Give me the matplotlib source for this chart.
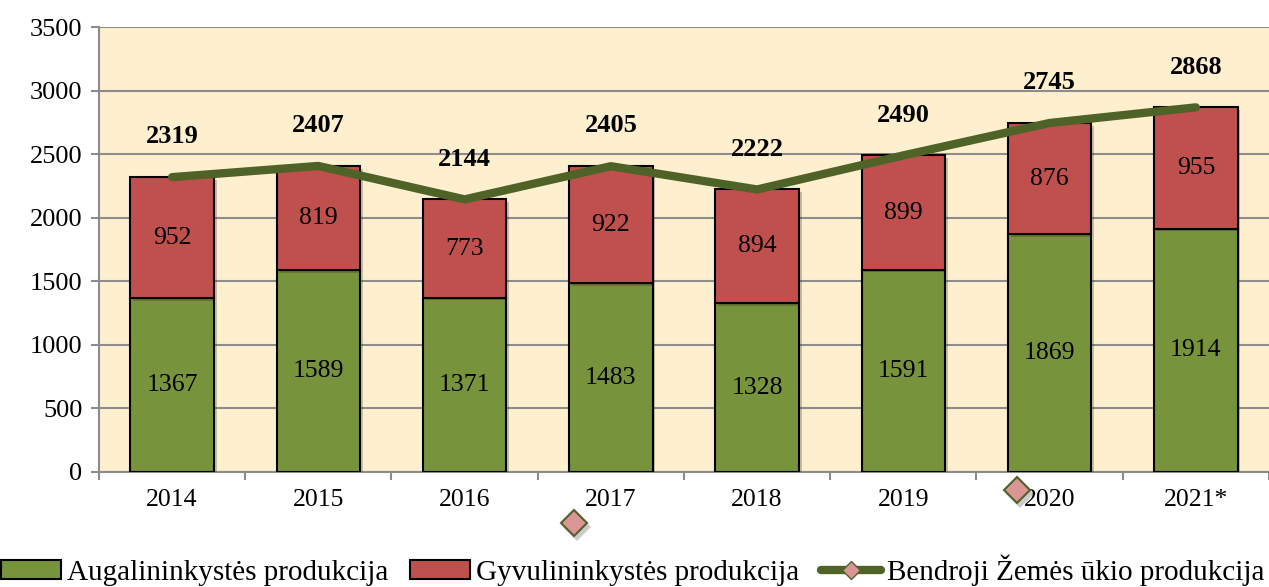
import matplotlib.pyplot as plt
import matplotlib.patheffects as pe
import matplotlib.transforms as mtransforms
from matplotlib.patches import Patch
from matplotlib.lines import Line2D
import numpy as np

plt.rcParams['font.family'] = ['Liberation Serif', 'DejaVu Serif']

# Duomenys
metai = ['2014', '2015', '2016', '2017', '2018', '2019', '2020', '2021*']
augalininkyste = [1367, 1589, 1371, 1483, 1328, 1591, 1869, 1914]
gyvulininkyste = [952, 819, 773, 922, 894, 899, 876, 955]
bendroji = [2319, 2407, 2144, 2405, 2222, 2490, 2745, 2868]

c_green = '#77933C'
c_red = '#C0504D'
c_line = '#4F6228'
c_bg = '#FEF0CE'

fig = plt.figure(figsize=(12.69, 5.87), dpi=100)
ax = fig.add_axes([0.078, 0.196, 0.922, 0.758])
ax.set_facecolor(c_bg)

x = np.arange(len(metai))
w = 0.57
shadow = [pe.SimplePatchShadow(offset=(2, -2), alpha=0.25), pe.Normal()]
b1 = ax.bar(x, augalininkyste, w, color=c_green, edgecolor='black', linewidth=1.5,
            zorder=3, path_effects=shadow)
b2 = ax.bar(x, gyvulininkyste, w, bottom=augalininkyste, color=c_red, edgecolor='black',
            linewidth=1.5, zorder=3, path_effects=shadow)
ax.plot(x, bendroji, color=c_line, linewidth=6, solid_capstyle='round', zorder=4)

for i in range(len(metai)):
    ax.text(x[i], augalininkyste[i] / 2, str(augalininkyste[i]), ha='center', va='center',
            fontsize=18.5, zorder=5)
    ax.text(x[i], augalininkyste[i] + gyvulininkyste[i] / 2, str(gyvulininkyste[i]),
            ha='center', va='center', fontsize=18.5, zorder=5)
    ax.annotate(str(bendroji[i]), (x[i], bendroji[i]), xytext=(0, 29),
                textcoords='offset points', ha='center', va='center',
                fontsize=19, fontweight='bold', zorder=5)

ax.set_xlim(-0.5, len(metai) - 0.5)
ax.set_ylim(0, 3500)
ax.set_yticks(np.arange(0, 3501, 500))
ax.yaxis.grid(True, color='#8C8C8C', linewidth=1.5, zorder=0)
ax.set_axisbelow(True)

ax.set_xticks(x)
ax.set_xticklabels(metai)
ax.set_xticks(np.arange(-0.5, len(metai)), minor=True)
ax.tick_params(axis='x', which='major', length=0, pad=12, labelsize=18.5)
ax.tick_params(axis='x', which='minor', length=6, width=1.5, color='#8C8C8C')
ax.tick_params(axis='y', length=6, width=1.5, color='#8C8C8C', labelsize=19, pad=6)

for s in ['top', 'right']:
    ax.spines[s].set_visible(False)
for s in ['left', 'bottom']:
    ax.spines[s].set_color('#8C8C8C')
    ax.spines[s].set_linewidth(1.5)

# pavieniai rombai po ašimi (kaip originale)
sh = mtransforms.offset_copy(ax.transAxes, fig=fig, x=3, y=-4, units='dots')
for (ax_x, ax_y) in [(0.406, -0.115), (0.785, -0.04)]:
    ax.plot(ax_x, ax_y, marker='D', markersize=14, color='#555555', alpha=0.3,
            markeredgewidth=0, transform=sh, clip_on=False, zorder=5)
    ax.plot(ax_x, ax_y, marker='D', markersize=13, markerfacecolor='#D99694',
            markeredgecolor=c_line, markeredgewidth=1.5, transform=ax.transAxes,
            clip_on=False, zorder=6)

handles = [
    Patch(facecolor=c_green, edgecolor='black', linewidth=1.5),
    Patch(facecolor=c_red, edgecolor='black', linewidth=1.5),
    Line2D([0], [0], color=c_line, linewidth=6, marker='D', markersize=9,
           markerfacecolor='#D99694', markeredgecolor=c_line, solid_capstyle='round'),
]
labels = ['Augalininkystės produkcija', 'Gyvulininkystės produkcija',
          'Bendroji Žemės ūkio produkcija']
fig.legend(handles, labels, loc='lower left', bbox_to_anchor=(0.0, 0.0), ncol=3,
           frameon=False, fontsize=21, handlelength=2.05, handleheight=0.6,
           handletextpad=0.2, columnspacing=0.75, borderaxespad=0, borderpad=0.05)

fig.savefig('out.png', dpi=100)
